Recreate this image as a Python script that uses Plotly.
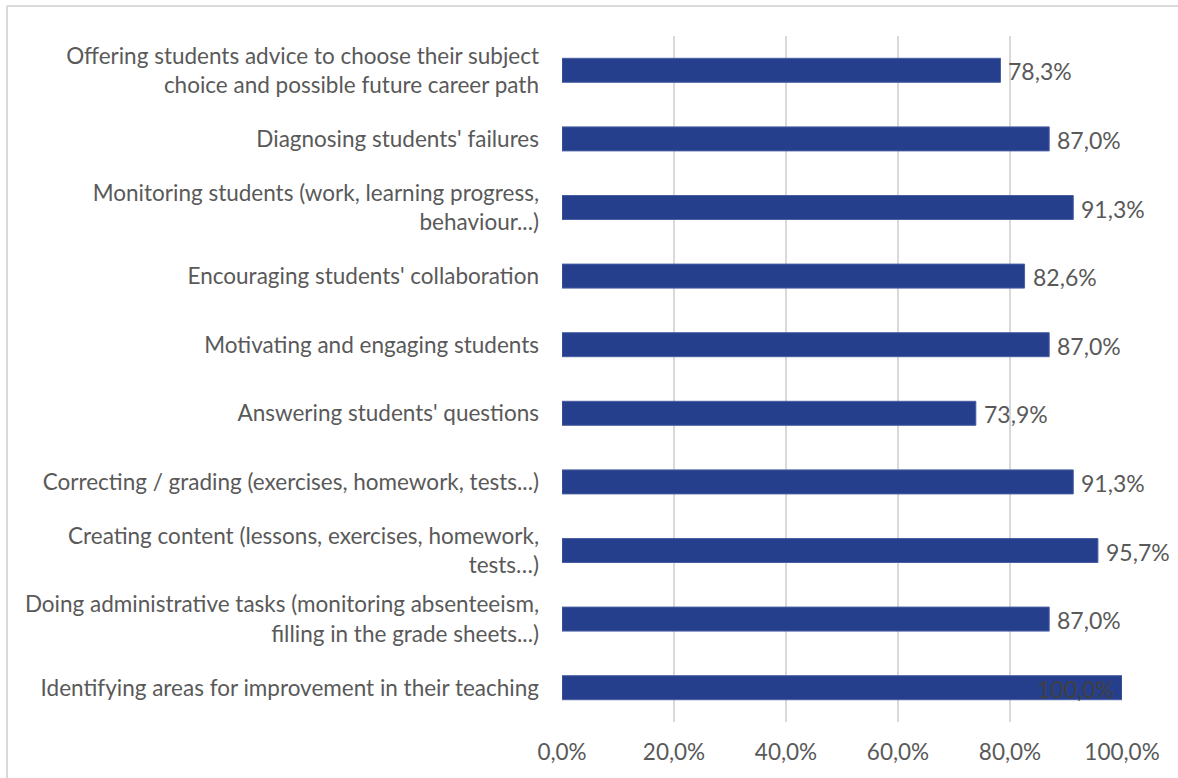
import plotly.graph_objects as go

# Tasks, listed bottom to top as drawn on the category axis
tasks = [
    "Identifying areas for improvement in their teaching",
    "Doing administrative tasks (monitoring absenteeism,<br>filling in the grade sheets...)",
    "Creating content (lessons, exercises, homework,<br>tests…)",
    "Correcting / grading (exercises, homework, tests...)",
    "Answering students' questions",
    "Motivating and engaging students",
    "Encouraging students' collaboration",
    "Monitoring students (work, learning progress,<br>behaviour...)",
    "Diagnosing students' failures",
    "Offering students advice to choose their subject<br>choice and possible future career path",
]
shares = [100.0, 87.0, 95.7, 91.3, 73.9, 87.0, 82.6, 91.3, 87.0, 78.3]

tick_vals = [0, 20, 40, 60, 80, 100]
tick_text = ["0,0%", "20,0%", "40,0%", "60,0%", "80,0%", "100,0%"]

W, H = 1178, 778
L, R, T, B = 562, 56, 36, 56
FONT = "Lato, 'Open Sans', sans-serif"
GREY = "#595959"

cats = list(range(len(tasks)))

fig = go.Figure(
    go.Bar(
        x=shares,
        y=cats,
        orientation="h",
        marker=dict(color="#263F8C", line=dict(color="#4A5FA3", width=1)),
        width=0.35,
        hoverinfo="skip",
    )
)

# Value labels: outside the bar end, or inside it when the bar fills the axis
for yi, v in zip(cats, shares):
    full = v >= 99.9
    fig.add_annotation(
        x=v, y=yi, xref="x", yref="y",
        text=f"{v:.1f}".replace(".", ",") + "%",
        showarrow=False,
        xanchor="right" if full else "left",
        xshift=-6 if full else 6,
        yshift=-1,
        font=dict(family=FONT, size=23, color="#404040" if full else GREY),
    )

fig.update_layout(
    width=W,
    height=H,
    margin=dict(l=L, r=R, t=T, b=B),
    paper_bgcolor="white",
    plot_bgcolor="white",
    showlegend=False,
    font=dict(family=FONT, size=22, color=GREY),
)

fig.update_xaxes(
    range=[0, 100],
    tickvals=tick_vals,
    ticktext=tick_text,
    showgrid=True,
    gridcolor="#D9D9D9",
    gridwidth=1.5,
    zeroline=False,
    showline=False,
    ticks="",
    tickfont=dict(family=FONT, size=22.5, color=GREY),
    ticklabelstandoff=14,
    fixedrange=True,
)

fig.update_yaxes(
    range=[-0.5, len(tasks) - 0.5],
    tickvals=cats,
    ticktext=tasks,
    showgrid=False,
    zeroline=False,
    showline=False,
    ticks="",
    ticklabelstandoff=22,
    tickfont=dict(family=FONT, size=22.5, color=GREY),
    fixedrange=True,
)

# Light frame along the left and top edges of the chart area
pw, ph = W - L - R, H - T - B
x_left = (7 - L) / pw
y_top = 1 + (T - 6) / ph
fig.add_shape(type="line", xref="paper", yref="paper",
              x0=x_left, x1=(W - L) / pw, y0=y_top, y1=y_top,
              line=dict(color="#D9D9D9", width=2))
fig.add_shape(type="line", xref="paper", yref="paper",
              x0=x_left, x1=x_left, y0=y_top, y1=-B / ph,
              line=dict(color="#D9D9D9", width=2))

fig.write_html("out.html")
